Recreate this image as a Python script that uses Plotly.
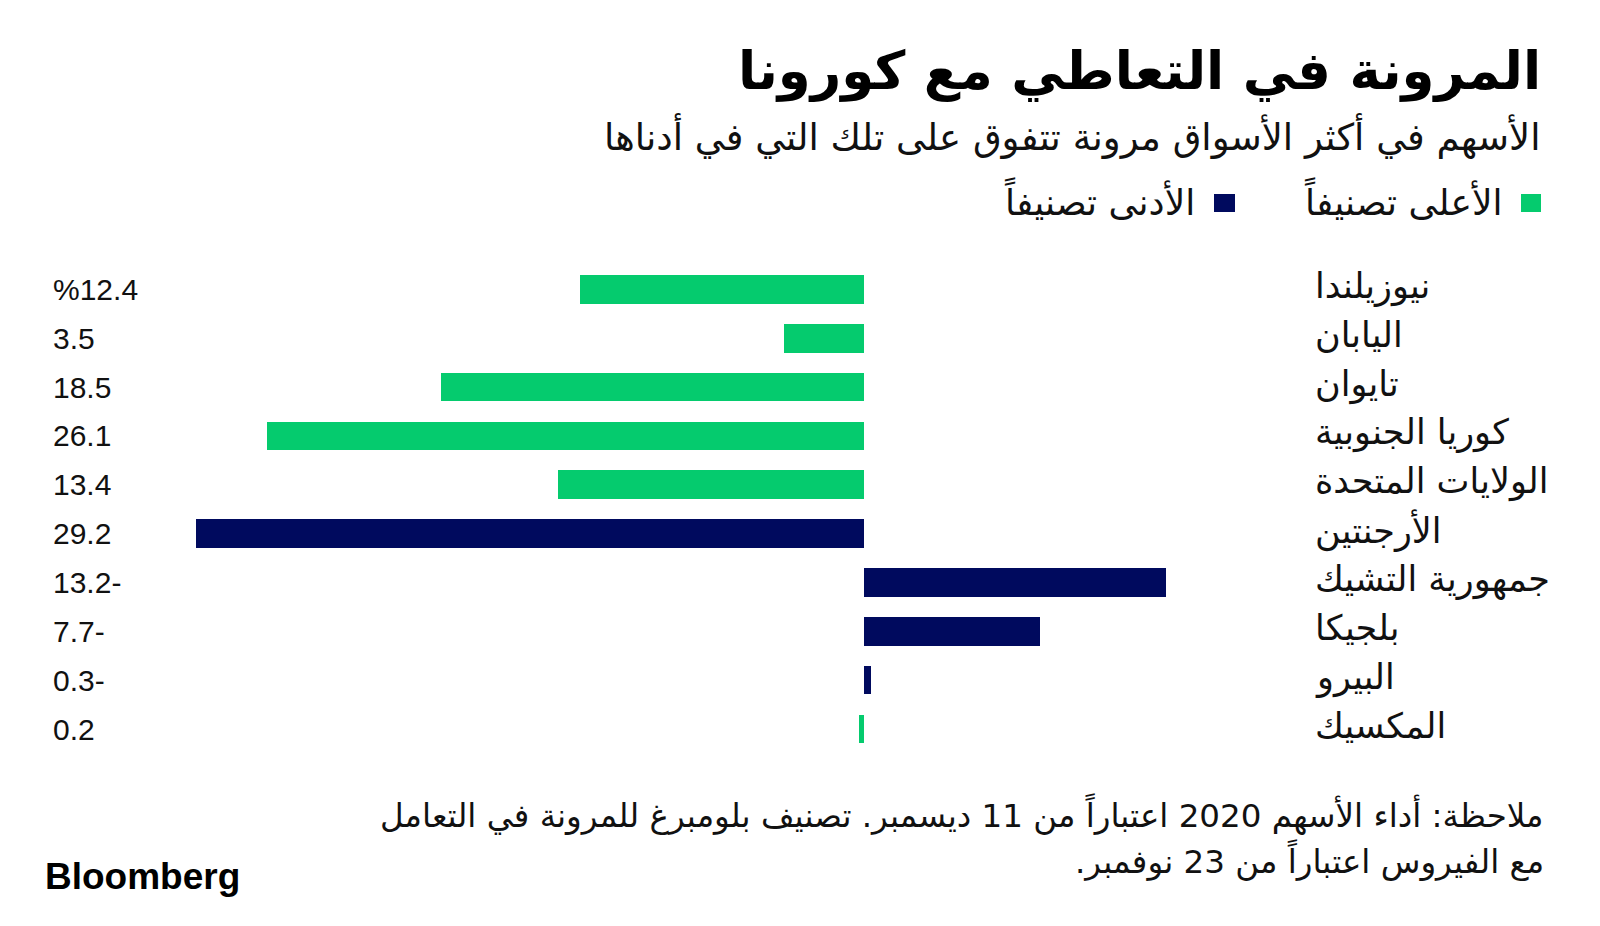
import plotly.graph_objects as go

# ---- data ----
countries = ["نيوزيلندا", "اليابان", "تايوان", "كوريا الجنوبية", "الولايات المتحدة",
             "الأرجنتين", "جمهورية التشيك", "بلجيكا", "البيرو", "المكسيك"]
values = [12.4, 3.5, 18.5, 26.1, 13.4, 29.2, -13.2, -7.7, -0.3, 0.2]
groups = ["top", "top", "top", "top", "top", "bottom", "bottom", "bottom", "bottom", "top"]
group_names = {"top": "الأعلى تصنيفاً", "bottom": "الأدنى تصنيفاً"}
colors = {"top": "#05cb6e", "bottom": "#000a5e"}

title = "المرونة في التعاطي مع كورونا"
subtitle = "الأسهم في أكثر الأسواق مرونة تتفوق على تلك التي في أدناها"
note1 = "ملاحظة: أداء الأسهم 2020 اعتباراً من 11 ديسمبر. تصنيف بلومبرغ للمرونة في التعامل"
note2 = "مع الفيروس اعتباراً من 23 نوفمبر."

W, H = 1600, 926
ML, MR, MT, MB = 178, 393, 265, 172
PW, PH = W - ML - MR, H - MT - MB

def px(x):
    return (x - ML) / PW

def py(y):
    return (H - MB - y) / PH

AR = "DejaVu Sans"
LAT = "Liberation Sans, Arial, sans-serif"
RLM = "\u200f"

fig = go.Figure()
fig.add_trace(go.Bar(
    y=countries, x=values, orientation="h",
    marker=dict(color=[colors[g] for g in groups], line=dict(width=0)),
    width=0.587, showlegend=False, hoverinfo="skip",
))

ann = []
for i, (c, v) in enumerate(zip(countries, values)):
    lab = f"{abs(v)}-" if v < 0 else f"{v}"
    if i == 0:
        lab = "%" + lab
    ann.append(dict(x=px(51), xref="paper", y=c, yref="y", text=lab, showarrow=False,
                    xanchor="left", yanchor="middle",
                    font=dict(family=LAT, size=30, color="#111111")))
    ann.append(dict(x=px(1313), xref="paper", y=c, yref="y", text=c + RLM, showarrow=False,
                    xanchor="left", yanchor="middle", yshift=3,
                    font=dict(family=AR, size=35, color="#111111")))

ann += [
    dict(x=px(1543), y=py(71), xref="paper", yref="paper", text="<b>" + title + "</b>",
         showarrow=False, xanchor="right", yanchor="middle",
         font=dict(family=AR, size=53, color="#000000")),
    dict(x=px(1543), y=py(136), xref="paper", yref="paper", text=subtitle,
         showarrow=False, xanchor="right", yanchor="middle",
         font=dict(family=AR, size=37, color="#111111")),
    dict(x=px(1505), y=py(200), xref="paper", yref="paper", text=group_names["top"],
         showarrow=False, xanchor="right", yanchor="middle",
         font=dict(family=AR, size=36, color="#111111")),
    dict(x=px(1197), y=py(200), xref="paper", yref="paper", text=group_names["bottom"],
         showarrow=False, xanchor="right", yanchor="middle",
         font=dict(family=AR, size=36, color="#111111")),
    dict(x=px(1546), y=py(814), xref="paper", yref="paper", text=note1 + RLM,
         showarrow=False, xanchor="right", yanchor="middle",
         font=dict(family=AR, size=32.5, color="#111111")),
    dict(x=px(1546), y=py(860), xref="paper", yref="paper", text=RLM + note2 + RLM,
         showarrow=False, xanchor="right", yanchor="middle",
         font=dict(family=AR, size=32.5, color="#111111")),
    dict(x=px(43), y=py(876), xref="paper", yref="paper", text="<b>Bloomberg</b>",
         showarrow=False, xanchor="left", yanchor="middle",
         font=dict(family=LAT, size=37, color="#000000")),
]

shapes = [
    dict(type="rect", xref="paper", yref="paper", x0=px(1521), x1=px(1541), y0=py(194), y1=py(212),
         fillcolor=colors["top"], line=dict(width=0)),
    dict(type="rect", xref="paper", yref="paper", x0=px(1214), x1=px(1235), y0=py(194), y1=py(212),
         fillcolor=colors["bottom"], line=dict(width=0)),
]

fig.update_layout(
    width=W, height=H,
    margin=dict(l=ML, r=MR, t=MT, b=MB, autoexpand=False),
    paper_bgcolor="white", plot_bgcolor="white",
    xaxis=dict(range=[30, -15], showgrid=False, zeroline=False, showticklabels=False,
               showline=False, ticks=""),
    yaxis=dict(type="category", categoryorder="array", categoryarray=countries,
               autorange="reversed", showgrid=False, zeroline=False,
               showticklabels=False, showline=False, ticks=""),
    annotations=ann, shapes=shapes, bargap=0, showlegend=False,
)

fig.write_html("out.html")
